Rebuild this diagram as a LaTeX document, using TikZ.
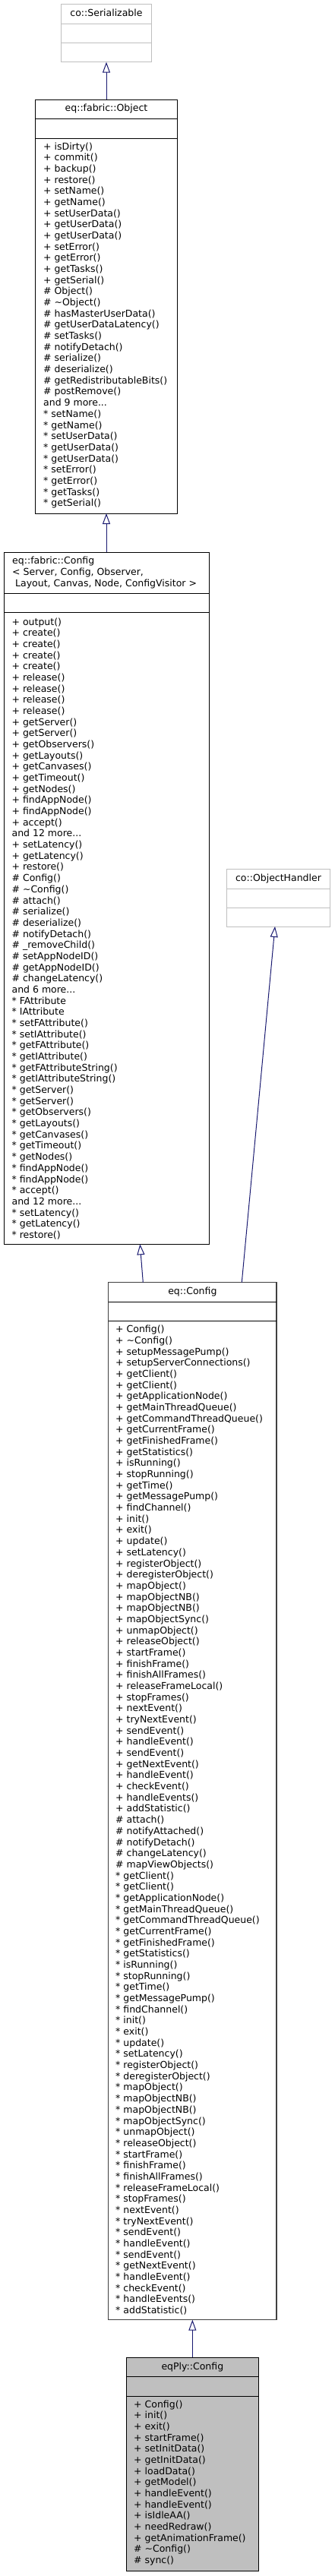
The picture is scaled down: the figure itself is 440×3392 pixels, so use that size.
\documentclass[tikz,border=0pt]{standalone}
\usepackage{fontspec}
\setmainfont{DejaVu Sans}
\usetikzlibrary{arrows.meta}
\definecolor{edgeblue}{HTML}{191970}
\definecolor{greyext}{HTML}{BFBFBF}
\definecolor{boxdark}{HTML}{404040}
\newcommand\moredots{...}
\begin{document}
\begin{tikzpicture}[x=1pt,y=-1pt,
  box/.style={draw=black, line width=1pt, anchor=north west, inner sep=0pt, outer sep=0pt},
  extbox/.style={box, draw=greyext},
  divider/.style={line width=1pt, draw=black},
  extdivider/.style={line width=1pt, draw=greyext},
  mem/.style={anchor=base west, inner sep=0pt, font=\fontsize{12.5}{14.68}\selectfont},
  ttl/.style={anchor=base, inner sep=0pt, font=\fontsize{12.5}{14.68}\selectfont},
  ttlleft/.style={anchor=base west, inner sep=0pt, font=\fontsize{12.5}{14.68}\selectfont},
  inh/.style={draw=edgeblue, line width=1pt, -{Triangle[open, length=14pt, width=10pt]}}
]
\fill[white] (0,0) rectangle (440,3392);
\useasboundingbox (0,0) rectangle (440,3392);

% co::Serializable
\node[extbox, minimum width=118.6pt, minimum height=76pt] (ser) at (80.7,5.7) {};
\node[ttl] (serT) at (140,21.3) {co::Serializable};
\draw[extdivider] (80.7,31.7) -- (199.3,31.7);
\draw[extdivider] (80.7,56.7) -- (199.3,56.7);

% eq::fabric::Object
\node[box, minimum width=186.6pt, minimum height=545pt] (obj) at (46.7,131) {};
\node[ttl] (objT) at (140,146.7) {eq::fabric::Object};
\draw[divider] (46.7,156.7) -- (233.3,156.7);
\draw[divider] (46.7,182) -- (233.3,182);
\foreach \t [count=\i from 0] in {
+ isDirty(), + commit(), + backup(), + restore(), + setName(), + getName(),
+ setUserData(), + getUserData(), + getUserData(), + setError(), + getError(),
+ getTasks(), + getSerial(), \# Object(), \# \textasciitilde Object(),
\# hasMasterUserData(), \# getUserDataLatency(), \# setTasks(), \# notifyDetach(),
\# serialize(), \# deserialize(), \# getRedistributableBits(), \# postRemove(),
and 9 more\moredots, * setName(), * getName(), * setUserData(), * getUserData(),
* getUserData(), * setError(), * getError(), * getTasks(), * getSerial()}
  \node[mem] (objm\i) at (57,197+\i*14.68) {\t};

% eq::fabric::Config
\node[box, minimum width=270pt, minimum height=911.3pt] (fab) at (5,727) {};
\node[ttlleft] (fabT1) at (16,742.7) {eq::fabric::Config};
\node[ttlleft] (fabT2) at (16,757.4) {< Server, Config, Observer,};
\node[ttlleft] (fabT3) at (20,772.1) {Layout, Canvas, Node, ConfigVisitor >};
\draw[divider] (5,781.3) -- (275,781.3);
\draw[divider] (5,806.3) -- (275,806.3);
\foreach \t [count=\i from 0] in {
+ output(), + create(), + create(), + create(), + create(),
+ release(), + release(), + release(), + release(),
+ getServer(), + getServer(), + getObservers(), + getLayouts(), + getCanvases(),
+ getTimeout(), + getNodes(), + findAppNode(), + findAppNode(), + accept(),
and 12 more\moredots, + setLatency(), + getLatency(), + restore(),
\# Config(), \# \textasciitilde Config(), \# attach(), \# serialize(), \# deserialize(),
\# notifyDetach(), \# \_removeChild(), \# setAppNodeID(), \# getAppNodeID(),
\# changeLatency(), and 6 more\moredots, * FAttribute, * IAttribute,
* setFAttribute(), * setIAttribute(), * getFAttribute(), * getIAttribute(),
* getFAttributeString(), * getIAttributeString(), * getServer(), * getServer(),
* getObservers(), * getLayouts(), * getCanvases(), * getTimeout(), * getNodes(),
* findAppNode(), * findAppNode(), * accept(), and 12 more\moredots,
* setLatency(), * getLatency(), * restore()}
  \node[mem] (fabm\i) at (15.4,823+\i*14.68) {\t};

% co::ObjectHandler
\node[extbox, minimum width=136.4pt, minimum height=75.7pt] (oh) at (298.3,1144.3) {};
\node[ttl] (ohT) at (366.5,1160.7) {co::ObjectHandler};
\draw[extdivider] (298.3,1170) -- (434.7,1170);
\draw[extdivider] (298.3,1195.3) -- (434.7,1195.3);

% eq::Config
\node[box, draw=boxdark, line width=1.3pt, minimum width=221.3pt, minimum height=1366.2pt] (eqc) at (142.7,1688.5) {};
\node[ttl] (eqcT) at (253.35,1704) {eq::Config};
\draw[divider] (142.7,1714) -- (364,1714);
\draw[divider] (142.7,1739) -- (364,1739);
\foreach \t [count=\i from 0] in {
+ Config(), + \textasciitilde Config(), + setupMessagePump(), + setupServerConnections(),
+ getClient(), + getClient(), + getApplicationNode(), + getMainThreadQueue(),
+ getCommandThreadQueue(), + getCurrentFrame(), + getFinishedFrame(), + getStatistics(),
+ isRunning(), + stopRunning(), + getTime(), + getMessagePump(), + findChannel(),
+ init(), + exit(), + update(), + setLatency(), + registerObject(), + deregisterObject(),
+ mapObject(), + mapObjectNB(), + mapObjectNB(), + mapObjectSync(), + unmapObject(),
+ releaseObject(), + startFrame(), + finishFrame(), + finishAllFrames(),
+ releaseFrameLocal(), + stopFrames(), + nextEvent(), + tryNextEvent(), + sendEvent(),
+ handleEvent(), + sendEvent(), + getNextEvent(), + handleEvent(), + checkEvent(),
+ handleEvents(), + addStatistic(), \# attach(), \# notifyAttached(), \# notifyDetach(),
\# changeLatency(), \# mapViewObjects(),
* getClient(), * getClient(), * getApplicationNode(), * getMainThreadQueue(),
* getCommandThreadQueue(), * getCurrentFrame(), * getFinishedFrame(), * getStatistics(),
* isRunning(), * stopRunning(), * getTime(), * getMessagePump(), * findChannel(),
* init(), * exit(), * update(), * setLatency(), * registerObject(), * deregisterObject(),
* mapObject(), * mapObjectNB(), * mapObjectNB(), * mapObjectSync(), * unmapObject(),
* releaseObject(), * startFrame(), * finishFrame(), * finishAllFrames(),
* releaseFrameLocal(), * stopFrames(), * nextEvent(), * tryNextEvent(), * sendEvent(),
* handleEvent(), * sendEvent(), * getNextEvent(), * handleEvent(), * checkEvent(),
* handleEvents(), * addStatistic()}
  \node[mem] (eqcm\i) at (152,1754.7+\i*14.68) {\t};

% eqPly::Config
\node[box, fill=greyext, minimum width=174.7pt, minimum height=280.7pt] (ply) at (166,3104.3) {};
\node[ttl] (plyT) at (253.35,3120.7) {eqPly::Config};
\draw[divider] (166,3129.3) -- (340.7,3129.3);
\draw[divider] (166,3155.3) -- (340.7,3155.3);
\foreach \t [count=\i from 0] in {
+ Config(), + init(), + exit(), + startFrame(), + setInitData(), + getInitData(),
+ loadData(), + getModel(), + handleEvent(), + handleEvent(), + isIdleAA(),
+ needRedraw(), + getAnimationFrame(), \# \textasciitilde Config(), \# sync()}
  \node[mem] (plym\i) at (176,3170+\i*14.68) {\t};

% inheritance connectors
\draw[inh] (obj.north) -- (ser.south);
\draw[inh] (fab.north) -- (obj.south);
\draw[inh] ([xshift=45.6pt]eqc.north west) -- ([xshift=179.3pt]fab.south west);
\draw[inh] ([xshift=175.6pt]eqc.north west) -- ([xshift=63.7pt]oh.south west);
\draw[inh] (ply.north) -- (eqc.south);
\end{tikzpicture}
\end{document}
